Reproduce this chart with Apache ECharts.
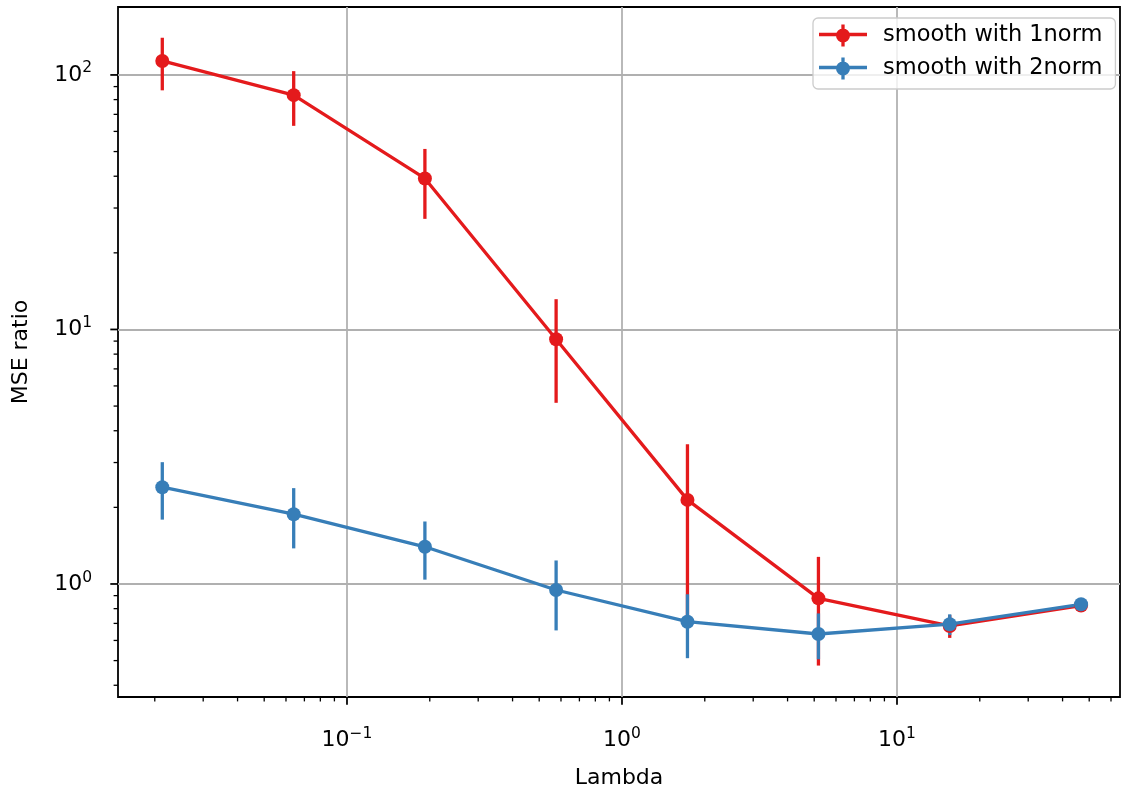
<!DOCTYPE html>
<html>
<head>
<meta charset="utf-8">
<script src="https://cdn.jsdelivr.net/npm/echarts@6/dist/echarts.min.js"></script>
<style>
  html, body { margin: 0; padding: 0; background: #fff; }
  #chart { width: 1122px; height: 795px; }
</style>
</head>
<body>
<div id="chart"></div>
<script>
// Regularisation strengths (x) and MSE ratios (y) with symmetric error half-widths
const lambdas = [0.0213, 0.064, 0.192, 0.576, 1.73, 5.18, 15.55, 46.7];
const norm1 = [113.5, 83.3, 39.2, 9.15, 2.14, 0.878, 0.684, 0.823];
const norm1Err = [26.5, 20.2, 12.0, 4.0, 1.40, 0.40, 0.07, 0.02];
const norm2 = [2.40, 1.88, 1.40, 0.947, 0.711, 0.636, 0.695, 0.832];
const norm2Err = [0.61, 0.50, 0.36, 0.29, 0.20, 0.13, 0.065, 0.02];
const seriesNames = ['smooth with 1norm', 'smooth with 2norm'];

// Axis ranges and tick positions
const xRange = [0.0147, 64.7];
const yRange = [0.3597, 184.9];
const xMajorTicks = [0.1, 1, 10];
const xMinorTicks = [0.02, 0.03, 0.04, 0.05, 0.06, 0.07, 0.08, 0.09,
  0.2, 0.3, 0.4, 0.5, 0.6, 0.7, 0.8, 0.9,
  2, 3, 4, 5, 6, 7, 8, 9,
  20, 30, 40, 50, 60];
const yMajorTicks = [1, 10, 100];
const yMinorTicks = [0.4, 0.5, 0.6, 0.7, 0.8, 0.9,
  2, 3, 4, 5, 6, 7, 8, 9,
  20, 30, 40, 50, 60, 70, 80, 90];

const RED = '#e41a1c';
const BLUE = '#377eb8';
const FONT = 'DejaVu Sans';
const LW = 3.3;

const chart = echarts.init(document.getElementById('chart'), null, { renderer: 'canvas' });

function powLabel(v) {
  const e = Math.round(Math.log10(v));
  const s = e < 0 ? '\u2212' + (-e) : String(e);
  return '{b|10}{e|' + s + '}';
}
const powRich = {
  b: { fontSize: 22, fontFamily: FONT, color: '#000' },
  e: { fontSize: 15.5, fontFamily: FONT, color: '#000', padding: [0, 0, 13, 0] }
};

function errorData(xs, ys, errs) {
  return xs.map((x, i) => [x, ys[i] - errs[i], ys[i] + errs[i]]);
}

function errorBarSeries(name, color, data) {
  return {
    type: 'custom',
    name: name,
    coordinateSystem: 'cartesian2d',
    itemStyle: { color: color },
    encode: { x: 0, y: [1, 2] },
    data: data,
    silent: true,
    z: 2,
    renderItem: function (params, api) {
      const p1 = api.coord([api.value(0), api.value(1)]);
      const p2 = api.coord([api.value(0), api.value(2)]);
      return {
        type: 'line',
        shape: { x1: p1[0], y1: p1[1], x2: p2[0], y2: p2[1] },
        style: { stroke: color, lineWidth: LW }
      };
    }
  };
}

function lineSeries(name, color, xs, ys) {
  return {
    type: 'line',
    name: name,
    data: xs.map((x, i) => [x, ys[i]]),
    symbol: 'circle',
    symbolSize: 14,
    showSymbol: true,
    lineStyle: { color: color, width: LW },
    itemStyle: { color: color, borderWidth: 0 },
    z: 3,
    animation: false
  };
}

// Outward tick marks on the bottom and left spines
function tickSeries(axis, values, len, width) {
  return {
    type: 'custom',
    name: 'ticks-' + axis,
    coordinateSystem: 'cartesian2d',
    silent: true,
    clip: false,
    z: 5,
    data: values.map(v => axis === 'x' ? [v, yRange[0]] : [xRange[0], v]),
    renderItem: function (params, api) {
      const cs = params.coordSys;
      const p = api.coord([api.value(0), api.value(1)]);
      let shape;
      if (axis === 'x') {
        const y0 = cs.y + cs.height;
        shape = { x1: p[0], y1: y0, x2: p[0], y2: y0 + len };
      } else {
        shape = { x1: cs.x - len, y1: p[1], x2: cs.x, y2: p[1] };
      }
      return { type: 'line', shape: shape, style: { stroke: '#000', lineWidth: width } };
    }
  };
}

// Legend handle: line, marker and vertical error bar
const legendIcon = 'path://M0,8.35H48V11.65H0Z M22.35,0H25.65V22H22.35Z M31,11A7,7 0 1 1 17,11A7,7 0 1 1 31,11Z';

const option = {
  animation: false,
  backgroundColor: '#fff',
  textStyle: { fontFamily: FONT },
  grid: {
    left: 118, top: 7, right: 2, bottom: 98,
    show: true, borderColor: '#000', borderWidth: 1.8, backgroundColor: 'transparent'
  },
  legend: {
    orient: 'vertical',
    left: 813,
    top: 18,
    padding: [6, 13, 9, 6],
    itemGap: 10,
    itemWidth: 48,
    itemHeight: 22,
    icon: legendIcon,
    backgroundColor: 'rgba(255,255,255,0.8)',
    borderColor: '#cccccc',
    borderWidth: 1.3,
    borderRadius: 5,
    data: seriesNames,
    textStyle: { fontSize: 22.5, fontFamily: FONT, color: '#000', padding: [0, 0, 0, 11] }
  },
  xAxis: {
    type: 'log',
    logBase: 10,
    min: xRange[0],
    max: xRange[1],
    name: 'Lambda',
    nameLocation: 'middle',
    nameGap: 70,
    nameTextStyle: { fontSize: 22, fontFamily: FONT, color: '#000' },
    axisLine: { show: false },
    axisTick: { show: false },
    axisLabel: {
      showMinLabel: false, showMaxLabel: false,
      margin: 29,
      formatter: powLabel,
      rich: powRich
    },
    splitLine: { show: true, showMinLine: false, showMaxLine: false, lineStyle: { color: '#b0b0b0', width: 1.76 } },
    minorTick: { show: false },
    minorSplitLine: { show: false }
  },
  yAxis: {
    type: 'log',
    logBase: 10,
    min: yRange[0],
    max: yRange[1],
    name: 'MSE ratio',
    nameLocation: 'middle',
    nameGap: 86,
    nameRotate: 90,
    nameTextStyle: { fontSize: 22, fontFamily: FONT, color: '#000' },
    axisLine: { show: false },
    axisTick: { show: false },
    axisLabel: {
      showMinLabel: false, showMaxLabel: false,
      margin: 26,
      formatter: powLabel,
      rich: powRich
    },
    splitLine: { show: true, showMinLine: false, showMaxLine: false, lineStyle: { color: '#b0b0b0', width: 1.76 } },
    minorTick: { show: false },
    minorSplitLine: { show: false }
  },
  series: [
    errorBarSeries(seriesNames[0], RED, errorData(lambdas, norm1, norm1Err)),
    errorBarSeries(seriesNames[1], BLUE, errorData(lambdas, norm2, norm2Err)),
    lineSeries(seriesNames[0], RED, lambdas, norm1),
    lineSeries(seriesNames[1], BLUE, lambdas, norm2),
    tickSeries('x', xMajorTicks, 7.7, 1.76),
    tickSeries('x', xMinorTicks, 4.4, 1.3),
    tickSeries('y', yMajorTicks, 7.7, 1.76),
    tickSeries('y', yMinorTicks, 4.4, 1.3)
  ]
};

chart.setOption(option);
</script>
</body>
</html>
